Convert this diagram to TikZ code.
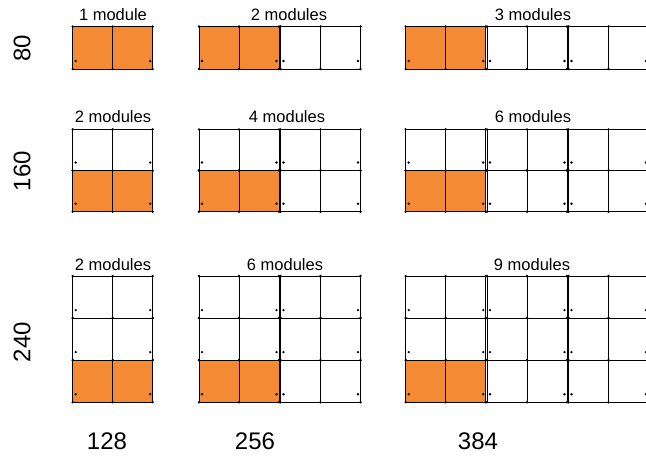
\documentclass[tikz,border=0pt]{standalone}
\usepackage{fontspec}
\setmainfont{Liberation Sans}
\definecolor{modorange}{RGB}{244,139,52}
\newcommand\drawmod[4]{% #1 x left, #2 y top, #3 height, #4 fill colour
  \path[fill=#4] (#1,#2) rectangle ++(80,#3);
  \draw[modline] (#1,#2) rectangle ++(80,#3);
  \draw[modline] (#1+40,#2) -- ++(0,#3);
  \foreach \dx in {0,40,80}{\fill (#1+\dx,#2) circle (1.3); \fill (#1+\dx,#2+#3) circle (1.3);}
  \fill (#1+3,#2+#3-8) circle (1.3);
  \fill (#1+77.5,#2+#3-8) circle (1.3);
}
\begin{document}
\begin{tikzpicture}[x=1pt,y=-1pt,
  modline/.style={line width=1pt, draw=black},
  ttl/.style={font=\fontsize{16.5}{19}\selectfont, inner sep=0pt},
  axlab/.style={font=\fontsize{24}{28}\selectfont, inner sep=0pt}]
\useasboundingbox (0,0) rectangle (646,456);
\clip (0,0) rectangle (646,456);
\fill[white] (0,0) rectangle (646,456);
% row 1 (height 80)
\foreach \x/\f in {72.7/modorange, 199/modorange, 280.5/white, 405.7/modorange, 487/white, 568.5/white}
  {\drawmod{\x}{26.5}{42.5}{\f}}
% row 2 (height 160)
\foreach \x in {72.7, 199, 280.5, 405.7, 487, 568.5}
  {\drawmod{\x}{129.3}{41.2}{white}}
\foreach \x/\f in {72.7/modorange, 199/modorange, 280.5/white, 405.7/modorange, 487/white, 568.5/white}
  {\drawmod{\x}{170.5}{41.2}{\f}}
% row 3 (height 240)
\foreach \y in {276, 318}
  {\foreach \x in {72.7, 199, 280.5, 405.7, 487, 568.5}
    {\drawmod{\x}{\y}{42.1}{white}}}
\foreach \x/\f in {72.7/modorange, 199/modorange, 280.5/white, 405.7/modorange, 487/white, 568.5/white}
  {\drawmod{\x}{360.1}{42.1}{\f}}
% titles
\node[ttl] (t11) at (113,15) {1 module};
\node[ttl] (t12) at (289,15) {2 modules};
\node[ttl] (t13) at (533,15) {3 modules};
\node[ttl] (t21) at (113,117) {2 modules};
\node[ttl] (t22) at (287,117) {4 modules};
\node[ttl] (t23) at (533,117) {6 modules};
\node[ttl] (t31) at (113,265) {2 modules};
\node[ttl] (t32) at (285,265) {6 modules};
\node[ttl] (t33) at (532,265) {9 modules};
% axis labels
\node[axlab, rotate=90] (h80) at (22,48) {80};
\node[axlab, rotate=90] (h160) at (22,171) {160};
\node[axlab, rotate=90] (h240) at (22,342) {240};
\node[axlab] (w128) at (107,441) {128};
\node[axlab] (w256) at (255,441) {256};
\node[axlab] (w384) at (478,441) {384};
\end{tikzpicture}
\end{document}
